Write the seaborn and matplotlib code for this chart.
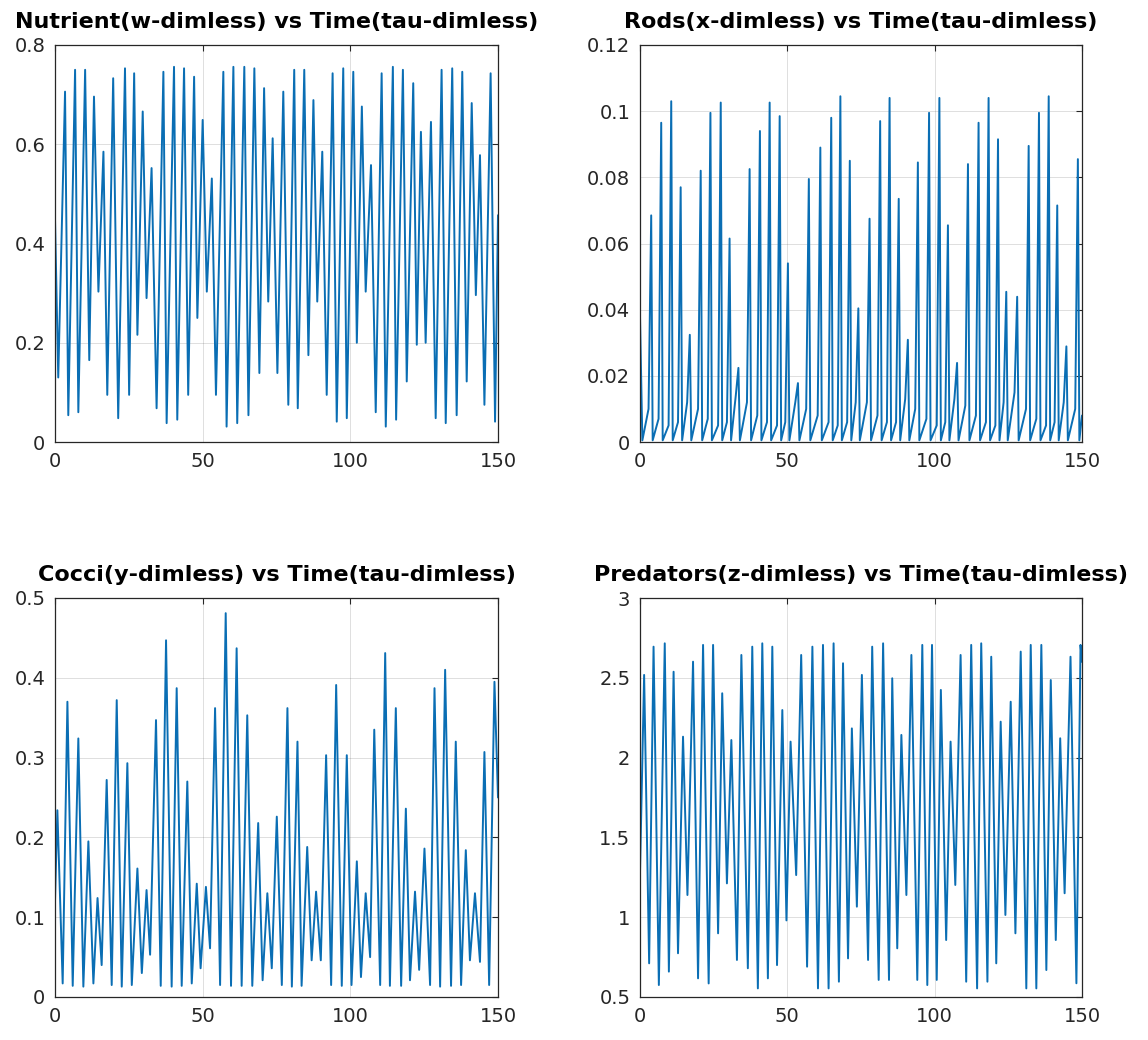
import matplotlib
matplotlib.use("Agg")
import matplotlib.pyplot as plt
import numpy as np
import pandas as pd
import seaborn as sns
from matplotlib.ticker import FuncFormatter, MultipleLocator

# ---------------- data (extrema) ----------------
nut_t = [0.0, 1.1, 3.4, 4.5, 6.8, 7.9, 10.2, 11.6, 13.2, 14.7,
         16.4, 17.7, 19.7, 21.4, 23.7, 25.1, 26.8, 27.9, 29.7, 31.0,
         32.7, 34.4, 36.7, 37.8, 40.3, 41.4, 43.7, 45.1, 47.1, 48.2,
         50.0, 51.4, 53.1, 54.5, 57.0, 58.1, 60.4, 61.7, 64.1, 65.5,
         67.5, 69.2, 70.8, 72.2, 73.7, 75.3, 77.3, 79.0, 81.0, 82.2,
         84.4, 85.8, 87.5, 88.8, 90.5, 92.0, 94.0, 95.4, 97.6, 98.8,
         101.0, 102.2, 103.9, 105.2, 107.0, 108.6, 110.6, 112.0, 114.4, 115.5,
         117.8, 119.1, 121.3, 122.5, 123.9, 125.5, 127.3, 128.9, 130.9, 132.3,
         134.5, 136.0, 137.9, 139.4, 141.1, 142.5, 143.9, 145.4, 147.5, 149.0,
         150.0]
nut_v = [0.45, 0.13, 0.706, 0.054, 0.750, 0.060, 0.750, 0.165, 0.696, 0.303,
         0.585, 0.095, 0.733, 0.048, 0.753, 0.095, 0.743, 0.216, 0.666, 0.290,
         0.552, 0.068, 0.746, 0.038, 0.756, 0.045, 0.753, 0.095, 0.736, 0.250,
         0.649, 0.303, 0.531, 0.095, 0.746, 0.031, 0.756, 0.038, 0.756, 0.054,
         0.753, 0.139, 0.713, 0.283, 0.612, 0.139, 0.706, 0.075, 0.750, 0.068,
         0.750, 0.175, 0.689, 0.283, 0.585, 0.095, 0.743, 0.041, 0.753, 0.048,
         0.746, 0.200, 0.676, 0.303, 0.558, 0.060, 0.743, 0.031, 0.756, 0.045,
         0.750, 0.122, 0.723, 0.196, 0.625, 0.200, 0.645, 0.048, 0.750, 0.038,
         0.753, 0.054, 0.746, 0.122, 0.683, 0.296, 0.578, 0.075, 0.743, 0.041,
         0.457]

rods_start_t = [0.0, 0.8]
rods_start_v = [0.038, 0.0005]
rods_peak_t = [3.8, 7.2, 10.6, 13.8, 16.9, 20.6, 23.9, 27.4, 30.4, 33.4,
               37.2, 40.7, 44.0, 47.4, 50.2, 53.6, 57.3, 61.2, 64.9, 68.0,
               71.2, 74.1, 77.9, 81.5, 84.7, 87.8, 90.9, 94.3, 98.1, 101.6,
               104.5, 107.6, 111.3, 114.9, 118.3, 121.5, 124.3, 128.0, 131.9, 135.4,
               138.7, 141.6, 144.7, 148.6]
rods_peak_v = [0.0685, 0.0965, 0.103, 0.077, 0.0324, 0.082, 0.0995, 0.1026, 0.0615, 0.0224,
               0.0825, 0.094, 0.1026, 0.0985, 0.054, 0.0178, 0.0795, 0.089, 0.098, 0.1045,
               0.085, 0.0404, 0.0675, 0.097, 0.104, 0.0735, 0.0309, 0.0845, 0.0995, 0.104,
               0.0655, 0.0239, 0.084, 0.0965, 0.104, 0.0915, 0.0454, 0.0439, 0.0895, 0.0995,
               0.1045, 0.0715, 0.0289, 0.0855]
rods_shoulder_v = [0.010, 0.007, 0.005, 0.006, 0.012, 0.010, 0.007, 0.005, 0.006, 0.014,
                   0.012, 0.008, 0.006, 0.005, 0.006, 0.012, 0.010, 0.008, 0.006, 0.005,
                   0.006, 0.012, 0.012, 0.008, 0.006, 0.006, 0.013, 0.010, 0.007, 0.005,
                   0.006, 0.013, 0.011, 0.008, 0.006, 0.005, 0.012, 0.015, 0.010, 0.007,
                   0.005, 0.006, 0.012, 0.010]
rods_trough_v = 0.0005
rods_end_v = 0.008

coc_t = [0.0, 0.8, 2.6, 4.2, 6.0, 7.9, 9.6, 11.3, 13.0, 14.4,
         15.8, 17.5, 19.2, 20.9, 22.6, 24.5, 26.0, 27.9, 29.4, 31.0,
         32.2, 34.2, 35.8, 37.6, 39.5, 41.2, 42.9, 44.8, 46.3, 48.0,
         49.3, 51.1, 52.5, 54.2, 55.9, 57.8, 59.6, 61.5, 63.2, 65.1,
         66.8, 68.8, 70.3, 71.9, 73.4, 75.1, 76.8, 78.7, 80.2, 82.1,
         83.5, 85.4, 86.9, 88.4, 90.0, 91.8, 93.5, 95.2, 97.1, 98.8,
         100.4, 102.2, 103.6, 105.2, 106.7, 108.1, 110.1, 111.8, 113.4, 115.4,
         117.2, 118.8, 120.2, 121.9, 123.3, 125.1, 127.0, 128.5, 130.4, 132.1,
         134.1, 135.7, 137.5, 139.1, 140.5, 142.2, 143.9, 145.4, 147.0, 148.8,
         150.0]
coc_v = [0.12, 0.234, 0.017, 0.370, 0.014, 0.324, 0.013, 0.195, 0.017, 0.124,
         0.040, 0.272, 0.015, 0.372, 0.013, 0.293, 0.015, 0.161, 0.030, 0.134,
         0.053, 0.347, 0.014, 0.447, 0.013, 0.387, 0.014, 0.270, 0.017, 0.142,
         0.036, 0.138, 0.061, 0.362, 0.015, 0.481, 0.014, 0.437, 0.014, 0.353,
         0.014, 0.218, 0.021, 0.130, 0.036, 0.226, 0.015, 0.362, 0.013, 0.320,
         0.014, 0.188, 0.046, 0.132, 0.046, 0.303, 0.015, 0.391, 0.014, 0.303,
         0.015, 0.170, 0.025, 0.130, 0.050, 0.335, 0.015, 0.431, 0.014, 0.362,
         0.014, 0.236, 0.021, 0.132, 0.034, 0.186, 0.015, 0.387, 0.013, 0.410,
         0.014, 0.320, 0.015, 0.184, 0.046, 0.130, 0.044, 0.307, 0.015, 0.395,
         0.25]

pred_t = [0.0, 1.4, 3.1, 4.6, 6.4, 8.4, 9.8, 11.4, 12.9, 14.6,
          16.1, 18.0, 19.7, 21.4, 23.3, 24.8, 26.5, 27.9, 29.5, 31.0,
          32.9, 34.4, 36.6, 38.1, 40.0, 41.5, 43.4, 44.9, 46.5, 48.3,
          49.7, 51.1, 53.0, 54.7, 56.7, 58.5, 60.4, 62.1, 64.0, 65.7,
          67.5, 68.9, 70.6, 71.9, 73.6, 75.3, 77.4, 78.8, 81.0, 82.5,
          84.5, 85.6, 87.3, 88.7, 90.4, 92.1, 94.1, 95.8, 97.5, 99.1,
          100.7, 102.1, 103.9, 105.4, 107.0, 108.8, 110.7, 112.4, 114.4, 115.8,
          117.9, 119.2, 120.9, 122.4, 124.0, 125.8, 127.4, 129.2, 131.1, 132.6,
          134.5, 136.2, 137.9, 139.4, 141.1, 142.6, 144.1, 146.1, 148.1, 149.5,
          150.0]
pred_v = [1.28, 2.518, 0.711, 2.695, 0.575, 2.716, 0.659, 2.538, 0.774, 2.131,
          1.139, 2.601, 0.617, 2.706, 0.585, 2.706, 0.899, 2.403, 1.212, 2.110,
          0.732, 2.643, 0.680, 2.695, 0.554, 2.716, 0.617, 2.695, 0.700, 2.298,
          0.98, 2.100, 1.264, 2.643, 0.690, 2.695, 0.554, 2.706, 0.554, 2.716,
          0.596, 2.591, 0.742, 2.183, 1.066, 2.518, 0.732, 2.695, 0.607, 2.716,
          0.607, 2.497, 0.805, 2.142, 1.139, 2.643, 0.607, 2.706, 0.575, 2.706,
          0.607, 2.424, 0.857, 2.100, 1.202, 2.643, 0.596, 2.706, 0.554, 2.716,
          0.596, 2.632, 0.711, 2.225, 1.014, 2.350, 0.899, 2.664, 0.554, 2.706,
          0.554, 2.706, 0.669, 2.486, 0.857, 2.121, 1.150, 2.632, 0.586, 2.706,
          2.60]

titles = ["Nutrient(w-dimless) vs Time(tau-dimless)",
          "Rods(x-dimless) vs Time(tau-dimless)",
          "Cocci(y-dimless) vs Time(tau-dimless)",
          "Predators(z-dimless) vs Time(tau-dimless)"]
x_ticks = [0, 50, 100, 150]

# ---------------- build rods knots (spike shape) ----------------
RISE, FALL = 0.9, 0.5
rods_t = list(rods_start_t)
rods_v = list(rods_start_v)
for tp, vp, sh in zip(rods_peak_t, rods_peak_v, rods_shoulder_v):
    rods_t += [tp - RISE, tp, tp + FALL]
    rods_v += [sh, vp, rods_trough_v]
rods_t.append(150.0)
rods_v.append(rods_end_v)

frames = [pd.DataFrame({"t": nut_t, "v": nut_v}),
          pd.DataFrame({"t": rods_t, "v": rods_v}),
          pd.DataFrame({"t": coc_t, "v": coc_v}),
          pd.DataFrame({"t": pred_t, "v": pred_v})]

# ---------------- style ----------------
sns.set_theme(style="white")
plt.rcParams['font.family'] = ['DejaVu Sans']

W, H = 1148, 1040
fig = plt.figure(figsize=(W / 100, H / 100), dpi=100)
boxes = [(55, 45, 498, 442), (640, 45, 1082, 442),
         (55, 598, 498, 997), (640, 598, 1082, 997)]
ylims = [(0, 0.8), (0, 0.12), (0, 0.5), (0.5, 3)]
ysteps = [0.2, 0.02, 0.1, 0.5]

INK = '#262626'
LINE = '#0a6eb4'
fmt = FuncFormatter(lambda v, _: f"{v:g}")

for df, box, yl, ys, title in zip(frames, boxes, ylims, ysteps, titles):
    x0, y0, x1, y1 = box
    ax = fig.add_axes([x0 / W, 1 - y1 / H, (x1 - x0) / W, (y1 - y0) / H])
    sns.lineplot(data=df, x="t", y="v", ax=ax, color=LINE, linewidth=1.4,
                 estimator=None, sort=False)
    ax.set_xlim(0, 150)
    ax.set_ylim(*yl)
    ax.set_xticks(x_ticks)
    ax.yaxis.set_major_locator(MultipleLocator(ys))
    ax.yaxis.set_major_formatter(fmt)
    ax.xaxis.set_major_formatter(fmt)
    ax.set_xlabel("")
    ax.set_ylabel("")
    ax.grid(True, color=INK, alpha=0.15, linewidth=0.7)
    for s in ax.spines.values():
        s.set_color(INK)
        s.set_linewidth(0.9)
    ax.tick_params(direction='in', length=4, width=0.8, colors=INK,
                   labelsize=14, top=True, right=True, pad=7)
    ax.set_title(title, fontsize=16, fontweight='bold', color='black', pad=12)

fig.savefig("out.png", dpi=100)
